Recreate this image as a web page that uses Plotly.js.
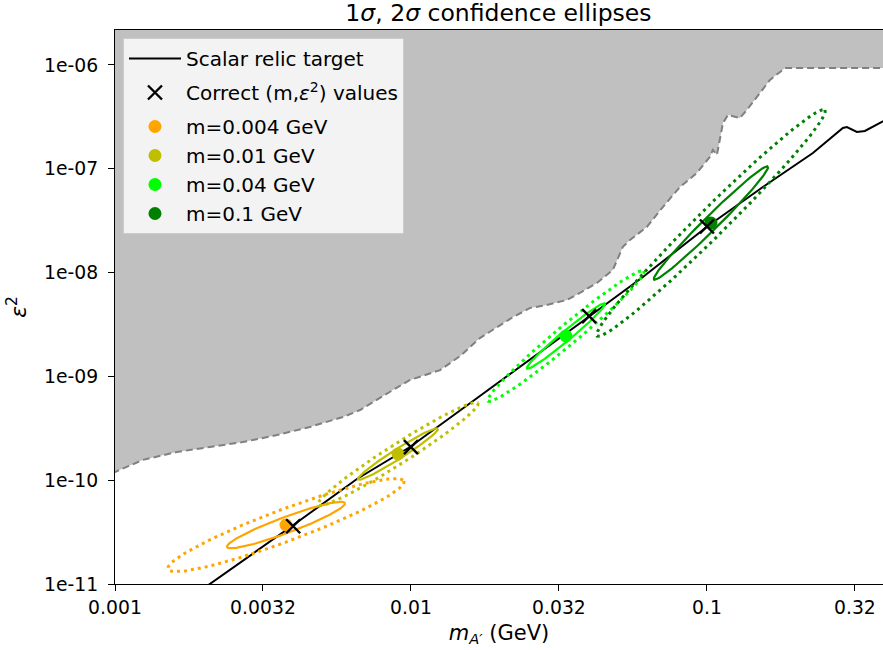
<!DOCTYPE html>
<html>
<head>
<meta charset="utf-8">
<script src="https://cdn.plot.ly/plotly-3.0.1.min.js"></script>
<style>html,body{margin:0;padding:0;background:#fff;}#chart{width:883px;height:650px;}</style>
</head>
<body>
<div id="chart"></div>
<script>
// ---- data ----
const relicM   = [0.001936, 0.003963, 0.006569, 0.009922, 0.01710, 0.02523, 0.04024, 0.06077, 0.1008, 0.1546, 0.2281, 0.2880, 0.2972, 0.3212, 0.3418, 0.3902, 0.42];
const relicEps = [8.56e-12, 3.62e-11, 1.027e-10, 2.089e-10, 6.48e-10, 1.439e-9, 3.818e-9, 9.07e-9, 2.81e-8, 6.68e-8, 1.419e-7, 2.472e-7, 2.527e-7, 2.262e-7, 2.312e-7, 2.824e-7, 3.2e-7];

const boundM   = [0.0009, 0.001, 0.001244, 0.001618, 0.002095, 0.002704, 0.003524, 0.004557, 0.005888, 0.006729, 0.008690, 0.009931, 0.01254, 0.01466, 0.01710, 0.01954, 0.02213, 0.02525, 0.02878, 0.03365, 0.03722, 0.04249, 0.04809, 0.05200, 0.05495, 0.06267, 0.07096, 0.08108, 0.09250, 0.1023, 0.1047, 0.1081, 0.1133, 0.1178, 0.1292, 0.1364, 0.1475, 0.1633, 0.1836, 0.5];
const boundEps = [1.15e-10, 1.20e-10, 1.57e-10, 1.87e-10, 2.09e-10, 2.33e-10, 2.72e-10, 3.26e-10, 4.06e-10, 4.74e-10, 7.39e-10, 9.23e-10, 1.15e-9, 1.57e-9, 2.34e-9, 2.99e-9, 3.73e-9, 4.56e-9, 4.88e-9, 5.45e-9, 6.36e-9, 7.94e-9, 1.06e-8, 1.77e-8, 2.06e-8, 2.75e-8, 4.28e-8, 6.68e-8, 9.12e-8, 1.30e-7, 1.52e-7, 1.36e-7, 2.76e-7, 3.30e-7, 3.08e-7, 3.68e-7, 4.92e-7, 7.17e-7, 9.35e-7, 9.35e-7];
const boundTopEps = 1e-5;

const trueM   = [0.004, 0.01, 0.04, 0.1];
const trueEps = [3.6e-11, 2.08e-10, 3.8e-9, 2.78e-8];

const fitLabels = ['m=0.004 GeV', 'm=0.01 GeV', 'm=0.04 GeV', 'm=0.1 GeV'];
const fitM      = [0.003782, 0.009040, 0.03339, 0.1032];
const fitEps    = [3.70e-11, 1.788e-10, 2.449e-9, 3.004e-8];
// 1-sigma ellipse: tip of the major axis and tip of the minor axis
const majTipM   = [0.005984, 0.012340, 0.04521, 0.1607];
const majTipEps = [6.03e-11, 3.147e-10, 5.039e-9, 1.052e-7];
const minTipM   = [0.003866, 0.009231, 0.03424, 0.1072];
const minTipEps = [3.133e-11, 1.628e-10, 2.252e-9, 2.690e-8];
const sigmaLevels = [1, 2];

const xTickVals = [0.001, 0.0031623, 0.01, 0.031623, 0.1, 0.31623];
const xTickText = ['0.001', '0.0032', '0.01', '0.032', '0.1', '0.32'];
const yTickVals = [1e-6, 1e-7, 1e-8, 1e-9, 1e-10, 1e-11];
const yTickText = ['1e-06', '1e-07', '1e-08', '1e-09', '1e-10', '1e-11'];

// ---- styles ----
const fitColors = ['#FFA500', '#BFBF00', '#00FF00', '#008000'];
const FONT = 'DejaVu Sans, sans-serif';

function ellipse(i, k) {
  const L = Math.log10;
  const cx = L(fitM[i]), cy = L(fitEps[i]);
  const ax = L(majTipM[i]) - cx, ay = L(majTipEps[i]) - cy;
  const bx = L(minTipM[i]) - cx, by = L(minTipEps[i]) - cy;
  const xs = [], ys = [];
  const n = 120;
  for (let j = 0; j <= n; j++) {
    const t = 2 * Math.PI * j / n;
    xs.push(Math.pow(10, cx + k * (ax * Math.cos(t) + bx * Math.sin(t))));
    ys.push(Math.pow(10, cy + k * (ay * Math.cos(t) + by * Math.sin(t))));
  }
  return {xs, ys};
}

const traces = [];
// excluded region
traces.push({
  x: boundM.concat([boundM[boundM.length - 1], boundM[0]]),
  y: boundEps.concat([boundTopEps, boundTopEps]),
  mode: 'lines', fill: 'toself', fillcolor: '#C0C0C0',
  line: {width: 0}, showlegend: false, hoverinfo: 'skip'
});
traces.push({
  x: boundM, y: boundEps, mode: 'lines',
  line: {color: '#808080', width: 2, dash: '7px,4px'},
  showlegend: false, hoverinfo: 'skip'
});
// relic target
traces.push({
  x: relicM, y: relicEps, mode: 'lines', name: 'Scalar relic target',
  line: {color: '#000000', width: 2}, legendrank: 1, legendgroup: 'a'
});
// ellipses
for (let i = 0; i < fitM.length; i++) {
  sigmaLevels.forEach(k => {
    const e = ellipse(i, k);
    traces.push({
      x: e.xs, y: e.ys, mode: 'lines', showlegend: false, hoverinfo: 'skip',
      line: k === 1 ? {color: fitColors[i], width: 2.2} : {color: fitColors[i], width: 3, dash: '3px,4px'}
    });
  });
}
// fit points
for (let i = 0; i < fitM.length; i++) {
  traces.push({
    x: [fitM[i]], y: [fitEps[i]], mode: 'markers', name: fitLabels[i],
    marker: {color: fitColors[i], size: 13, symbol: 'circle'},
    legendrank: 3 + i, legendgroup: 'm'
  });
}
// true values
traces.push({
  x: trueM, y: trueEps, mode: 'markers', name: 'Correct (m,<i>ε</i><sup>2</sup>) values',
  marker: {symbol: 'x-thin', size: 14, color: '#000', line: {color: '#000', width: 2.4}},
  legendrank: 2, legendgroup: 'b'
});

const layout = {
  width: 883, height: 650,
  margin: {l: 115, r: 0, t: 30, b: 66},
  paper_bgcolor: '#fff', plot_bgcolor: '#fff',
  font: {family: FONT, size: 18, color: '#000'},
  title: {text: '1<i>σ</i>, 2<i>σ</i> confidence ellipses', x: 0.5645, xanchor: 'center', y: 0.981, yanchor: 'middle', font: {size: 23.5, family: FONT, color: '#000'}},
  xaxis: {
    type: 'log', range: [-3, -0.405], tickmode: 'array', tickvals: xTickVals, ticktext: xTickText,
    showgrid: false, zeroline: false, showline: true, linecolor: '#000', linewidth: 1, mirror: true,
    ticks: 'outside', ticklen: 6, tickcolor: '#000', tickfont: {size: 18.8, family: FONT},
    title: {text: '<i>m</i><sub><i>A′</i></sub> (GeV)', font: {size: 21, family: FONT}, standoff: 8}
  },
  yaxis: {
    type: 'log', range: [-11, -5.663], tickmode: 'array', tickvals: yTickVals, ticktext: yTickText,
    showgrid: false, zeroline: false, showline: true, linecolor: '#000', linewidth: 1, mirror: false,
    ticks: 'outside', ticklen: 6, tickcolor: '#000', tickfont: {size: 18.8, family: FONT}, ticklabelstandoff: 6,
    title: {text: '<i>ε</i><sup>2</sup>', font: {size: 22, family: FONT}, standoff: 11}
  },
  legend: {
    x: 0.0104, y: 0.9856, xanchor: 'left', yanchor: 'top',
    bgcolor: 'rgba(255,255,255,0.8)', bordercolor: '#cccccc', borderwidth: 1,
    font: {size: 20, family: FONT, color: '#000'},
    traceorder: 'grouped', tracegroupgap: 5, itemwidth: 52
  },
  showlegend: true
};

Plotly.newPlot('chart', traces, layout, {staticPlot: true, displayModeBar: false});
</script>
</body>
</html>
